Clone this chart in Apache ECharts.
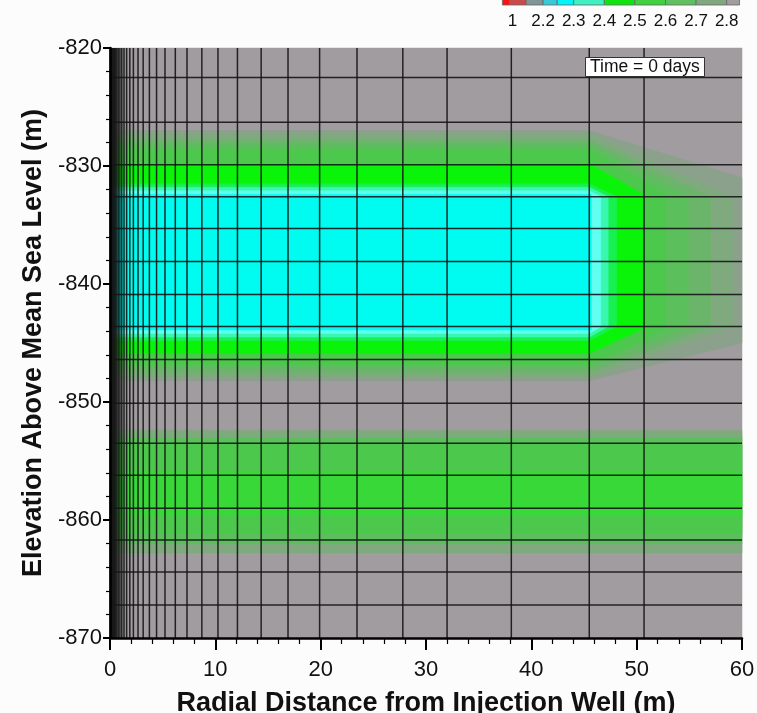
<!DOCTYPE html>
<html><head><meta charset="utf-8">
<script src="https://cdn.jsdelivr.net/npm/echarts@6/dist/echarts.min.js"></script>
<style>html,body{margin:0;padding:0;background:#fff}#c{width:757px;height:713px}</style>
</head><body><div id="c"></div>
<script>
// ---- data ----
const xMin = 0, xMax = 60, xStep = 10;
const yMin = -870, yMax = -820, yStep = 10;
const legendLabels = ['1','2.2','2.3','2.4','2.5','2.6','2.7','2.8'];
const legendEdges = [-0.33,-0.1,0.45,1,1.46,2,3,4,5,6,7,7.42];
const legendColors = ['#ff1010','#c84a4a','#7f9598','#38c8d8','#00f4f8','#40f0c0','#10e410','#40d040','#60c060','#80a880','#a09c9f'];
const meshX = [0.03,0.05,0.08,0.11,0.15,0.19,0.24,0.3,0.37,0.45,0.54,0.65,0.78,0.94,1.12,1.33,1.58,1.88,2.22,2.66,3.15,3.74,4.42,5.22,6.2,7.31,8.72,10.25,12.1,14.35,16.9,19.9,23.45,27.8,32.0,38.1,45.5,50.7];
const meshY = [-822.5,-826.3,-829.9,-832.6,-835.3,-838.1,-840.9,-843.6,-846.4,-850.1,-853.5,-856.2,-859.0,-861.7,-864.4,-867.2];
// contour bands: value of each filled polygon, and polygon vertices [x (m), elevation (m)]
const fieldValues = [2.85, 2.80,2.76,2.72,2.67,2.62,2.50,2.43,2.37,2.33,2.28, 2.76,2.67,2.62,2.56];
const fieldPolygons = [
  [[0,-870],[60,-870],[60,-820],[0,-820]],
  [[0,-827.0],[45.5,-827.0],[60,-831.0],[60,-845.0],[45.5,-848.2],[0,-848.2]],
  [[0,-827.3],[45.5,-827.3],[59.1,-832.6],[59.1,-843.6],[45.5,-847.9],[0,-847.9]],
  [[0,-827.8],[45.5,-827.8],[57.0,-832.6],[57.0,-843.6],[45.5,-847.5],[0,-847.5]],
  [[0,-828.2],[45.5,-828.2],[54.9,-832.6],[54.9,-843.6],[45.5,-847.1],[0,-847.1]],
  [[0,-828.6],[45.5,-828.6],[52.7,-832.4],[52.7,-843.8],[45.5,-846.8],[0,-846.8]],
  [[0,-829.8],[45.5,-829.8],[50.6,-832.4],[50.6,-843.8],[45.5,-845.9],[0,-845.9]],
  [[0,-831.5],[45.5,-831.5],[48.1,-832.6],[48.1,-843.6],[45.5,-844.8],[0,-844.8]],
  [[0,-831.8],[45.5,-831.8],[47.3,-832.6],[47.3,-843.6],[45.5,-844.5],[0,-844.5]],
  [[0,-832.1],[45.5,-832.1],[46.6,-832.6],[46.6,-843.6],[45.5,-844.2],[0,-844.2]],
  [[0,-832.4],[45.7,-832.4],[45.7,-843.9],[0,-843.9]],
  [[0,-852.4],[60,-852.4],[60,-862.8],[0,-862.8]],
  [[0,-853.0],[60,-853.0],[60,-862.0],[0,-862.0]],
  [[0,-853.6],[60,-853.6],[60,-861.1],[0,-861.1]],
  [[0,-855.9],[60,-855.9],[60,-859.6],[0,-859.6]]
];
const colorPieces = [
  {gt:2.82, color:'#a09c9f'},
  {gt:2.78, lte:2.82, color:'#8ca18c'},
  {gt:2.74, lte:2.78, color:'#7eaa7e'},
  {gt:2.70, lte:2.74, color:'#6bb56b'},
  {gt:2.65, lte:2.70, color:'#5bbf5b'},
  {gt:2.58, lte:2.65, color:'#4cc84c'},
  {gt:2.53, lte:2.58, color:'#38d838'},
  {gt:2.46, lte:2.53, color:'#0af40a'},
  {gt:2.40, lte:2.46, color:'#18f050'},
  {gt:2.35, lte:2.40, color:'#38f8b0'},
  {gt:2.30, lte:2.35, color:'#60fff0'},
  {lte:2.30, color:'#00fcf0'}
];
const timeLabel = 'Time = 0 days';
const xName = 'Radial Distance from Injection Well (m)';
const yName = 'Elevation Above Mean Sea Level (m)';

// ---- chart ----
const FONT = "'Liberation Sans', Arial, sans-serif";
const chart = echarts.init(document.getElementById('c'), null, {renderer:'canvas'});
const gridL = 110, gridR = 15, gridT = 48, gridB = 75;

const legendX0 = 512.5, legendDX = 30.6;
const graphics = [];
for (let i = 0; i < legendColors.length; i++) {
  const x1 = legendX0 + legendEdges[i]*legendDX, x2 = legendX0 + legendEdges[i+1]*legendDX;
  graphics.push({type:'rect', shape:{x:x1, y:-10, width:x2-x1, height:15}, style:{fill:legendColors[i], stroke:'#666', lineWidth:0.8}});
}
legendLabels.forEach((t,i)=>{
  graphics.push({type:'text', x: legendX0 + i*legendDX, y: 21, style:{text:t, fontSize:17, fontFamily:FONT, fill:'#111', textAlign:'center', textVerticalAlign:'middle'}});
});

const fieldData = fieldValues.map((v,i)=>[v,i]);
const option = {
  animation:false,
  backgroundColor:'#fdfcfd',
  title:{text:timeLabel, left:585, top:57, padding:[1,5,1,5], backgroundColor:'#fff', borderColor:'#333', borderWidth:1,
    textStyle:{fontSize:17.5, fontWeight:'normal', color:'#111', fontFamily:FONT}},
  grid:{left:gridL, right:gridR, top:gridT, bottom:gridB, containLabel:false, outerBoundsMode:'none'},
  visualMap:{type:'piecewise', show:false, dimension:0, seriesIndex:0, pieces:colorPieces},
  xAxis:{type:'value', min:xMin, max:xMax, interval:xStep, z:5,
    axisLine:{onZero:false, lineStyle:{color:'#000', width:2.5}},
    axisTick:{length:12, lineStyle:{color:'#000', width:2}},
    minorTick:{show:true, splitNumber:5, length:6, lineStyle:{color:'#000', width:1.2}},
    splitLine:{show:false},
    axisLabel:{fontSize:22, color:'#111', margin:21, fontFamily:FONT},
    name:xName, nameLocation:'middle', nameGap:52,
    nameTextStyle:{fontSize:27, fontWeight:'bold', color:'#111', fontFamily:FONT}},
  yAxis:{type:'value', min:yMin, max:yMax, interval:yStep, z:5,
    axisLine:{onZero:false, lineStyle:{color:'#000', width:2.5}},
    axisTick:{length:7, lineStyle:{color:'#000', width:2}},
    minorTick:{show:true, splitNumber:5, length:4, lineStyle:{color:'#000', width:1.2}},
    splitLine:{show:false},
    axisLabel:{fontSize:22, color:'#111', margin:8, fontFamily:FONT},
    name:yName, nameLocation:'middle', nameGap:61, nameRotate:90,
    nameTextStyle:{fontSize:27, fontWeight:'bold', color:'#111', fontFamily:FONT}},
  graphic:graphics,
  series:[
    {type:'custom', data:fieldData, silent:true, z:1,
      encode:{x:-1, y:-1},
      renderItem:(params, api)=>{
        const poly = fieldPolygons[api.value(1)].map(p=>api.coord(p));
        return {type:'polygon', shape:{points:poly}, style:{fill:api.visual('color'), stroke:api.visual('color'), lineWidth:0.5}};
      }},
    {type:'custom', data:meshX.map(v=>[v]), silent:true, z:2,
      encode:{x:-1, y:-1},
      renderItem:(params, api)=>{
        const x = api.value(0);
        const a = api.coord([x, yMin]), b = api.coord([x, yMax]);
        return {type:'line', shape:{x1:a[0], y1:a[1], x2:b[0], y2:b[1]}, style:{stroke:'#151515', lineWidth:1.5, opacity:0.9}};
      }},
    {type:'custom', data:meshY.map(v=>[v]), silent:true, z:2,
      encode:{x:-1, y:-1},
      renderItem:(params, api)=>{
        const y = api.value(0);
        const a = api.coord([xMin, y]), b = api.coord([xMax, y]);
        return {type:'line', shape:{x1:a[0], y1:a[1], x2:b[0], y2:b[1]}, style:{stroke:'#151515', lineWidth:1.5, opacity:0.9}};
      }}
  ]
};
chart.setOption(option);
</script></body></html>
